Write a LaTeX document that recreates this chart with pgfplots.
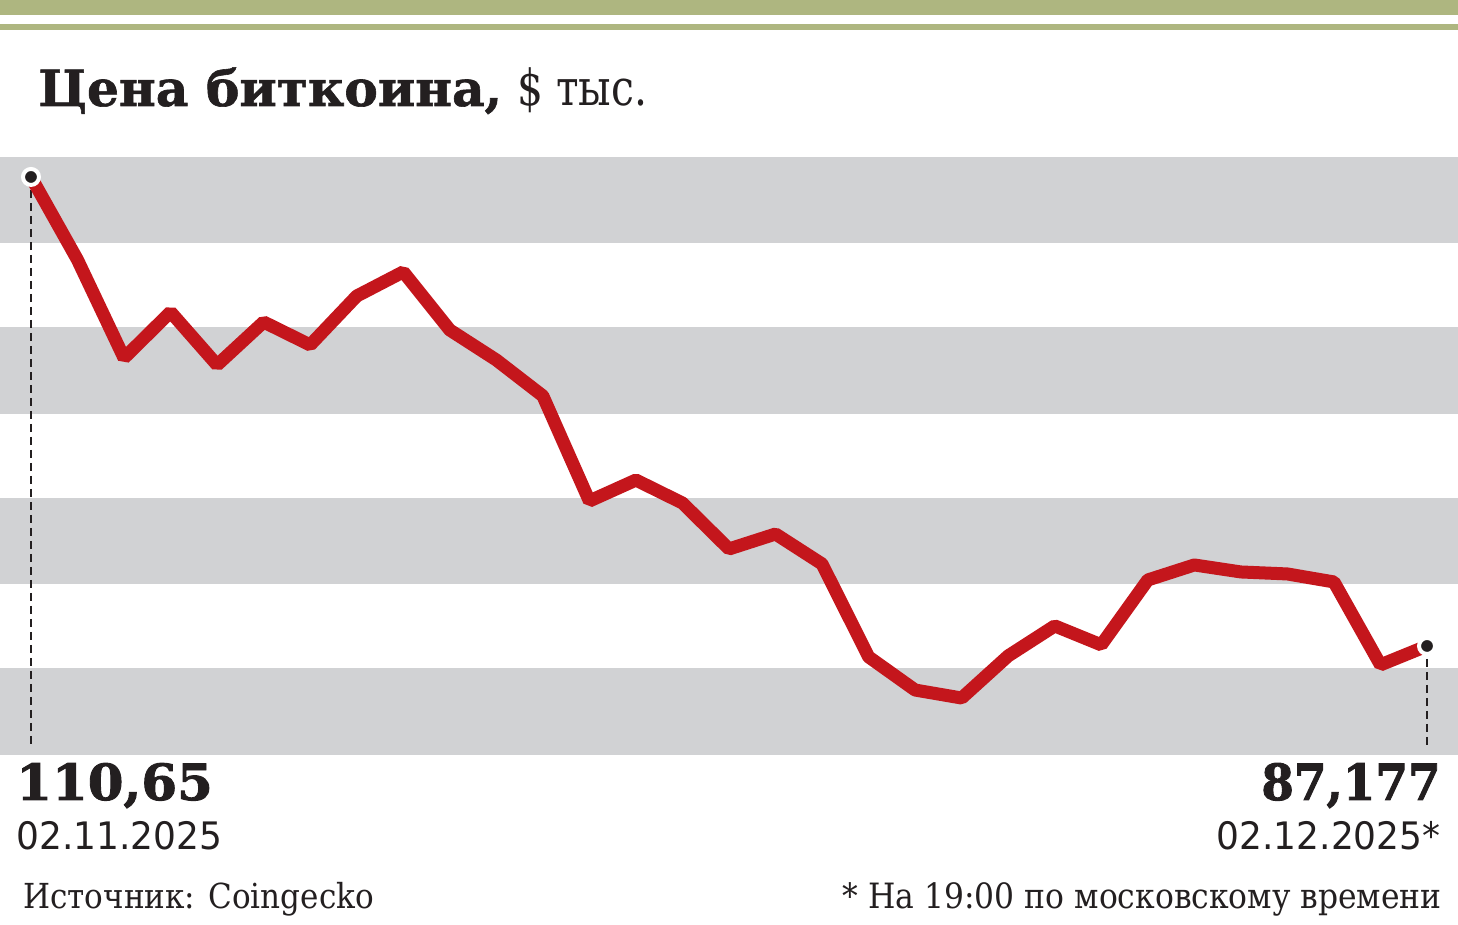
\documentclass[border=0pt]{standalone}
\usepackage{pgfplots}
\pgfplotsset{compat=1.18}
\usepackage{fontspec}
\setmainfont{DejaVu Serif}
\newfontfamily\titlefont{DejaVu Serif}[FakeStretch=1.01, FakeBold=1.2]
\newfontfamily\lightfont{DejaVu Serif}[FakeStretch=0.82]
\newfontfamily\numfont{DejaVu Serif}[FakeStretch=1.03, FakeBold=1.8]
\newfontfamily\numfontn{DejaVu Serif}[FakeStretch=0.94, FakeBold=1.8]
\newfontfamily\datefont{DejaVu Sans}[FakeStretch=0.95]
\newfontfamily\footfont{DejaVu Serif Condensed}
\definecolor{topgreen}{RGB}{174,182,128}
\definecolor{bandgray}{RGB}{209,210,212}
\definecolor{linered}{RGB}{196,22,28}
\definecolor{ink}{RGB}{35,31,32}
\begin{document}
\begin{tikzpicture}[x=0.5bp,y=0.5bp]
\fill[white] (0,0) rectangle (1458,925);
\fill[topgreen] (0,925) rectangle (1458,910);
\fill[topgreen] (0,901) rectangle (1458,895);
\begin{axis}[at={(0bp,85bp)}, anchor=south west, scale only axis,
  width=729bp, height=299bp,
  xmin=-0.666, xmax=30.666, ymin=81.72, ymax=111.65,
  axis lines=none, ticks=none, clip=false]
\fill[bandgray] (axis cs:-0.666,107.35) rectangle (axis cs:30.666,111.65);
\fill[bandgray] (axis cs:-0.666,98.79) rectangle (axis cs:30.666,103.14);
\fill[bandgray] (axis cs:-0.666,90.28) rectangle (axis cs:30.666,94.58);
\fill[bandgray] (axis cs:-0.666,81.72) rectangle (axis cs:30.666,86.08);
\addplot[ink, line width=1bp, dash pattern=on 4bp off 2.5bp] coordinates {(0,110.65) (0,82.22)};
\addplot[ink, line width=1bp, dash pattern=on 4bp off 2.5bp] coordinates {(30,87.177) (30,82.22)};
\addplot[linered, line width=6.5bp, line join=bevel] coordinates {
(0,110.65) (1,106.50) (2,101.59) (3,103.89) (4,101.24) (5,103.39) (6,102.24)
(7,104.69) (8,105.90) (9,102.99) (10,101.49) (11,99.69) (12,94.43) (13,95.48)
(14,94.33) (15,92.03) (16,92.78) (17,91.28) (18,86.63) (19,84.97) (20,84.57)
(21,86.68) (22,88.18) (23,87.23) (24,90.48) (25,91.23) (26,90.88) (27,90.78)
(28,90.38) (29,86.23) (30,87.177)};
\addplot[only marks, mark=*, mark size=4bp, mark options={fill=ink, draw=white, line width=2bp}] coordinates {(0,110.65) (30,87.177)};
\end{axis}
\node[anchor=base west, inner sep=0pt, text=ink, font=\titlefont\bfseries\fontsize{25}{30}\selectfont] at (38,819) {Цена биткоина,};
\node[anchor=base west, inner sep=0pt, text=ink, font=\lightfont\fontsize{25}{30}\selectfont] at (517,819) {\$ тыс.};
\node[anchor=base west, inner sep=0pt, text=ink, font=\numfont\bfseries\fontsize{25}{30}\selectfont] at (16,125) {110,65};
\node[anchor=base east, inner sep=0pt, text=ink, font=\numfontn\bfseries\fontsize{25}{30}\selectfont] at (1441,125) {87,177};
\node[anchor=base west, inner sep=0pt, text=ink, font=\datefont\fontsize{19}{22}\selectfont] at (16,75) {02.11.2025};
\node[anchor=base east, inner sep=0pt, text=ink, font=\datefont\fontsize{19}{22}\selectfont] at (1441,75) {02.12.2025*};
\node[anchor=base west, inner sep=0pt, text=ink, font=\footfont\fontsize{17.3}{20}\selectfont] at (23,16) {Источник: Coingecko};
\node[anchor=base east, inner sep=0pt, text=ink, font=\footfont\fontsize{17.5}{20}\selectfont] at (1442,16) {* На 19:00 по московскому времени};
\end{tikzpicture}
\end{document}
